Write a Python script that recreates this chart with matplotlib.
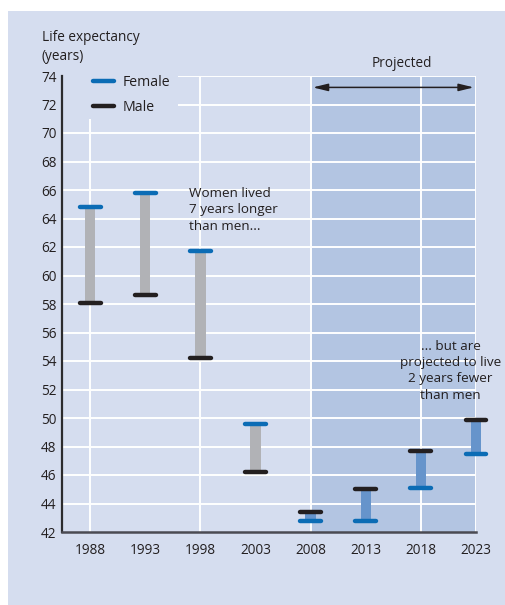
import matplotlib
matplotlib.use("Agg")
import matplotlib.pyplot as plt
from matplotlib.patches import Rectangle
from matplotlib.lines import Line2D

years = [1988, 1993, 1998, 2003, 2008, 2013, 2018, 2023]
female = [64.8, 65.8, 61.7, 49.6, 42.8, 42.8, 45.1, 47.45]
male = [58.1, 58.6, 54.2, 46.2, 43.4, 45.05, 47.7, 49.85]
projected_from = 2008
yticks = list(range(42, 75, 2))

BG = "#d5ddef"
SHADE = "#b3c5e2"
FEM = "#0b6cb5"
MALE = "#231f20"
GRAY = "#b1b2b6"
PBAR = "#6694cb"
TXT = "#231f20"

plt.rcParams['font.family'] = ['Open Sans', 'DejaVu Sans']

W, H = 506, 605
fig = plt.figure(figsize=(W / 100, H / 100), dpi=100)
fig.patch.set_facecolor("white")
fig.patches.append(Rectangle((8 / W, 0), 1 - 8 / W, 1 - 11 / H, transform=fig.transFigure,
                             facecolor=BG, edgecolor="none", zorder=-10))

ax = fig.add_axes([62 / W, 1 - 532 / H, (476 - 62) / W, (532 - 76) / H])
ax.set_facecolor(BG)
ax.patch.set_alpha(0)
ax.set_xlim(1985.45, 2023)
ax.set_ylim(42, 74)

# projected shading
ax.axvspan(projected_from, 2023, color=SHADE, zorder=0, lw=0)

# gridlines
for y in yticks[1:]:
    ax.axhline(y, color="white", lw=1.4, zorder=1)
for x in [1988, 1998, 2008, 2018, 2023]:
    ax.axvline(x, color="white", lw=1.4, zorder=1)

# legend cover
ax.add_patch(Rectangle((0, 0.906), 0.28, 0.1, transform=ax.transAxes,
                       facecolor=BG, edgecolor="none", zorder=2, clip_on=False))

# bars and caps
for yr, f, m in zip(years, female, male):
    col = PBAR if yr >= projected_from else GRAY
    lo, hi = min(f, m), max(f, m)
    ax.bar(yr, hi - lo, bottom=lo, width=0.95, color=col, zorder=3, lw=0, clip_on=False)
    ax.plot([yr - 0.95, yr + 0.95], [f, f], color=FEM, lw=3.2, solid_capstyle="round",
            zorder=4, clip_on=False)
    ax.plot([yr - 0.95, yr + 0.95], [m, m], color=MALE, lw=3.2, solid_capstyle="round",
            zorder=4, clip_on=False)

# spines
for s in ["top", "right"]:
    ax.spines[s].set_visible(False)
ax.spines["left"].set_color("#2b2b2e")
ax.spines["left"].set_linewidth(1.6)
ax.spines["bottom"].set_color("#4a4a52")
ax.spines["bottom"].set_linewidth(1.8)

ax.set_xticks(years)
ax.set_xticklabels([str(y) for y in years])
ax.set_yticks(yticks)
ax.set_yticklabels([str(y) for y in yticks])
ax.tick_params(axis="both", length=0, labelsize=9.8, colors=TXT)
ax.tick_params(axis="x", pad=8)
ax.tick_params(axis="y", pad=4)

# legend
handles = [Line2D([0], [0], color=FEM, lw=3.2, solid_capstyle="round"),
           Line2D([0], [0], color=MALE, lw=3.2, solid_capstyle="round")]
leg = ax.legend(handles, ["Female", "Male"], loc="upper left", bbox_to_anchor=(0.062, 1.015),
                frameon=False, fontsize=10.2, handlelength=1.45, handletextpad=0.6,
                labelspacing=0.7, borderaxespad=0)
for t in leg.get_texts():
    t.set_color(TXT)
leg.set_zorder(5)

# projected arrow & label
ax.annotate("", xy=(2022.8, 73.2), xytext=(2008.2, 73.2),
            arrowprops=dict(arrowstyle="<|-|>,head_length=0.9,head_width=0.22",
                            color=TXT, lw=1.1, shrinkA=0, shrinkB=0), zorder=5)
ax.text(2016.25, 74.85, "Projected", ha="center", va="center", fontsize=9.8, color=TXT,
        clip_on=False)

# annotations
ax.text(1996.95, 66.2, "Women lived\n7 years longer\nthan men...", ha="left", va="top",
        fontsize=9.7, color=TXT, linespacing=1.33, zorder=5)
ax.text(2020.7, 55.5, "... but are\nprojected to live\n2 years fewer\nthan men", ha="center",
        va="top", fontsize=9.7, color=TXT, linespacing=1.33, zorder=5)

fig.text(42 / W, 1 - 30 / H, "Life expectancy\n(years)", ha="left", va="top",
         fontsize=9.8, color=TXT, linespacing=1.4)

fig.savefig("out.png", dpi=100, facecolor="white")
